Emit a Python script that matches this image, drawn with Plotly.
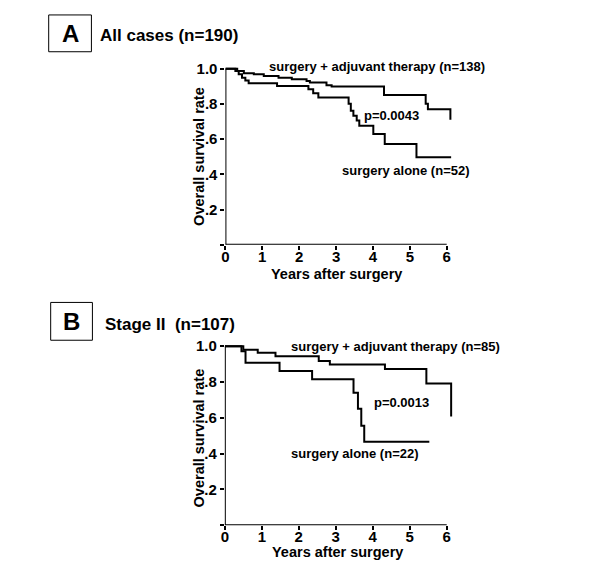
import plotly.graph_objects as go

W, H = 600, 577

# ---------------- data ----------------
a_adj_t = [0, 0.32, 0.50, 0.77, 1.04, 1.44, 1.80, 2.20, 2.29, 2.74, 2.88, 4.30, 5.43, 5.49, 6.10]
a_adj_s = [1.0, 0.987, 0.974, 0.968, 0.958, 0.949, 0.940, 0.930, 0.921, 0.906, 0.898, 0.850, 0.800, 0.770, 0.710]

a_alone_t = [0, 0.27, 0.36, 0.45, 0.54, 0.63, 1.40, 2.25, 2.38, 2.52, 3.34, 3.40, 3.47, 3.56, 3.63, 4.01, 4.32, 5.18, 6.12]
a_alone_s = [1.0, 0.987, 0.968, 0.949, 0.933, 0.917, 0.902, 0.883, 0.860, 0.836, 0.800, 0.761, 0.733, 0.706, 0.676, 0.629, 0.572, 0.497, 0.497]

b_adj_t = [0, 0.50, 0.89, 1.37, 2.54, 2.84, 4.33, 5.45, 6.12]
b_adj_s = [1.0, 0.980, 0.963, 0.944, 0.917, 0.898, 0.872, 0.792, 0.607]

b_alone_t = [0, 0.45, 0.56, 1.48, 2.36, 3.48, 3.60, 3.69, 3.77, 5.53]
b_alone_s = [1.0, 0.972, 0.907, 0.861, 0.815, 0.740, 0.651, 0.556, 0.467, 0.467]

x_ticks = [0, 1, 2, 3, 4, 5, 6]
y_ticks = [0, 0.2, 0.4, 0.6, 0.8, 1.0]
y_ticktext = ["", ".2", ".4", ".6", ".8", "1.0"]

FONT = "Liberation Sans, Arial, sans-serif"

def px(x):
    return x / W

def py(y):
    return 1 - y / H

fig = go.Figure()

line_style = dict(color="black", width=2, shape="hv")
fig.add_trace(go.Scatter(x=a_adj_t, y=a_adj_s, mode="lines", line=line_style, xaxis="x", yaxis="y", showlegend=False))
fig.add_trace(go.Scatter(x=a_alone_t, y=a_alone_s, mode="lines", line=line_style, xaxis="x", yaxis="y", showlegend=False))
fig.add_trace(go.Scatter(x=b_adj_t, y=b_adj_s, mode="lines", line=line_style, xaxis="x2", yaxis="y2", showlegend=False))
fig.add_trace(go.Scatter(x=b_alone_t, y=b_alone_s, mode="lines", line=line_style, xaxis="x2", yaxis="y2", showlegend=False))

tickfont = dict(family=FONT, size=15, color="black", weight="bold")

def xax(domain, anchor):
    return dict(domain=domain, range=[0, 6.2], anchor=anchor, showline=False, showgrid=False,
                zeroline=False, tickmode="array", tickvals=x_ticks,
                ticktext=[str(v) for v in x_ticks], ticks="outside", ticklen=4,
                tickwidth=2, tickcolor="black", tickfont=tickfont, ticklabelstandoff=-6)

def yax(domain, anchor):
    return dict(domain=domain, range=[0, 1.03], anchor=anchor, showline=False, showgrid=False,
                zeroline=False, tickmode="array", tickvals=y_ticks, ticktext=y_ticktext,
                ticks="outside", ticklen=4, tickwidth=2, tickcolor="black", tickfont=tickfont,
                ticklabelstandoff=0)

# panel geometry (pixels)
A_x0, A_y0, A_ppx, A_ppy = 222.9, 243.0, 37.13, 177.0
B_x0, B_y0, B_ppx, B_ppy = 222.3, 525.0, 37.23, 180.0

fig.update_layout(
    width=W, height=H, margin=dict(l=0, r=0, t=0, b=0),
    paper_bgcolor="white", plot_bgcolor="white",
    xaxis=xax([px(A_x0), px(A_x0 + 6.2 * A_ppx)], "y"),
    yaxis=yax([py(A_y0), py(A_y0 - 1.03 * A_ppy)], "x"),
    xaxis2=xax([px(B_x0), px(B_x0 + 6.2 * B_ppx)], "y2"),
    yaxis2=yax([py(B_y0), py(B_y0 - 1.03 * B_ppy)], "x2"),
)

shapes = []
# axis lines in data coords
for xr, yr in (("x", "y"), ("x2", "y2")):
    shapes.append(dict(type="line", xref=xr, yref=yr, x0=0, x1=6, y0=0, y1=0,
                       line=dict(color="black", width=2)))
    shapes.append(dict(type="line", xref=xr, yref=yr, x0=0, x1=0, y0=0, y1=1.0,
                       line=dict(color="black", width=2)))
# letter boxes
shapes.append(dict(type="rect", xref="paper", yref="paper", x0=px(45), x1=px(88), y0=py(49), y1=py(12),
                   line=dict(color="black", width=1)))
shapes.append(dict(type="rect", xref="paper", yref="paper", x0=px(47), x1=px(89), y0=py(339), y1=py(301),
                   line=dict(color="black", width=1)))

annotations = []

def text(x, y, s, size, xanchor="left", angle=0):
    annotations.append(dict(x=px(x), y=py(y), xref="paper", yref="paper", text=s, showarrow=False,
                            xanchor=xanchor, yanchor="middle", textangle=angle, borderpad=0,
                            font=dict(family=FONT, size=size, color="black", weight="bold")))

# panel labels
text(66.5, 31, "A", 24, xanchor="center")
text(68, 320, "B", 24, xanchor="center")
text(96, 33, "All cases (n=190)", 17)
text(101, 323, "Stage II  (n=107)", 17)

# axis titles
text(197, 154, "Overall survival rate", 14.5, xanchor="center", angle=-90)
text(196, 437, "Overall survival rate", 14.5, xanchor="center", angle=-90)
text(335, 272, "Years after surgery", 14.5, xanchor="center")
text(336, 552, "Years after surgery", 14.5, xanchor="center")

# curve labels
text(266, 64, "surgery + adjuvant therapy (n=138)", 13)
text(361, 113, "p=0.0043", 13)
text(339, 168, "surgery alone (n=52)", 13)
text(288, 345, "surgery + adjuvant therapy (n=85)", 13)
text(371, 402, "p=0.0013", 13)
text(288, 453, "surgery alone (n=22)", 13)

fig.update_layout(shapes=shapes, annotations=annotations)

fig.write_html("out.html", config={"displayModeBar": False},
               post_script="document.body.style.margin='0px';")
